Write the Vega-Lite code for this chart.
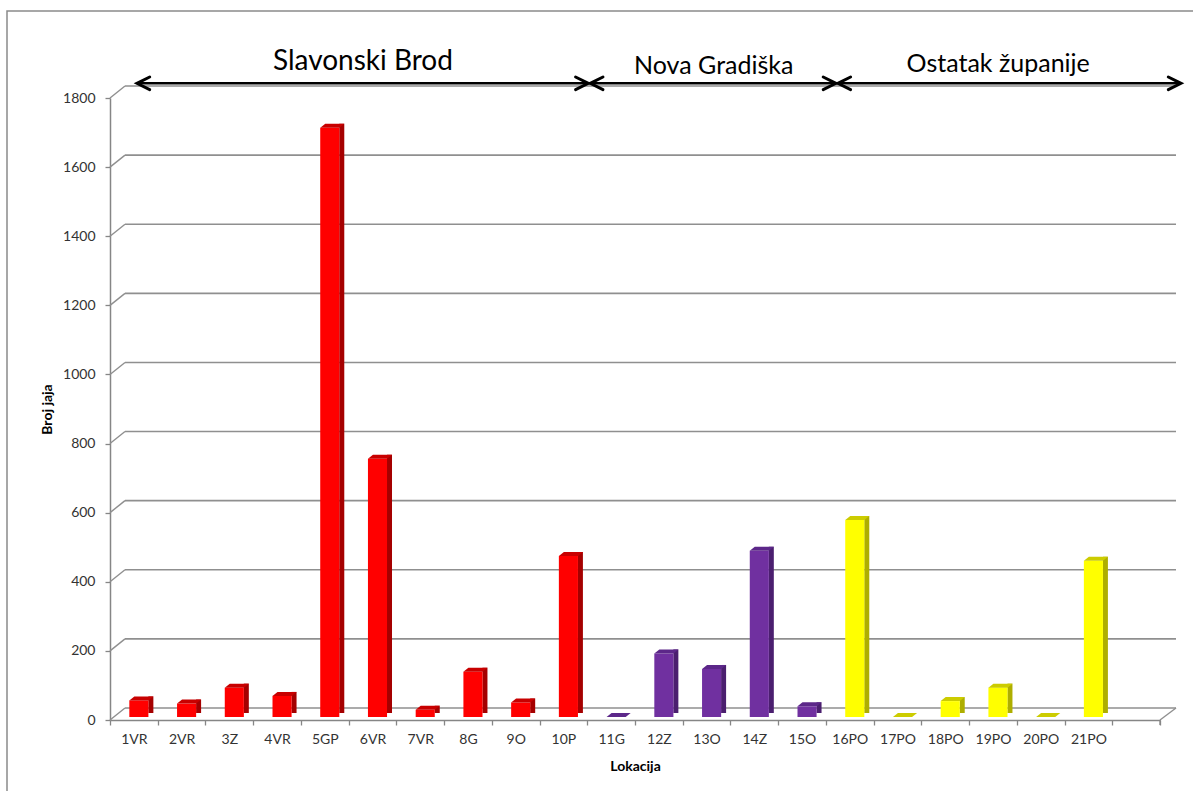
{
  "$schema": "https://vega.github.io/schema/vega-lite/v6.json",
  "autosize": "none",
  "width": 1050,
  "height": 622,
  "padding": {"left": 110, "top": 98, "right": 33, "bottom": 71},
  "background": "white",
  "config": {"view": {"stroke": null}, "font": "Lato"},
  "datasets": {
    "bars": [
      {"lokacija": "1VR", "grupa": "Slavonski Brod", "broj": 48},
      {"lokacija": "2VR", "grupa": "Slavonski Brod", "broj": 39},
      {"lokacija": "3Z", "grupa": "Slavonski Brod", "broj": 85},
      {"lokacija": "4VR", "grupa": "Slavonski Brod", "broj": 61},
      {"lokacija": "5GP", "grupa": "Slavonski Brod", "broj": 1705},
      {"lokacija": "6VR", "grupa": "Slavonski Brod", "broj": 747},
      {"lokacija": "7VR", "grupa": "Slavonski Brod", "broj": 21},
      {"lokacija": "8G", "grupa": "Slavonski Brod", "broj": 131},
      {"lokacija": "9O", "grupa": "Slavonski Brod", "broj": 42},
      {"lokacija": "10P", "grupa": "Slavonski Brod", "broj": 466},
      {"lokacija": "11G", "grupa": "Nova Gradiška", "broj": 0},
      {"lokacija": "12Z", "grupa": "Nova Gradiška", "broj": 184},
      {"lokacija": "13O", "grupa": "Nova Gradiška", "broj": 139},
      {"lokacija": "14Z", "grupa": "Nova Gradiška", "broj": 481},
      {"lokacija": "15O", "grupa": "Nova Gradiška", "broj": 31},
      {"lokacija": "16PO", "grupa": "Ostatak županije", "broj": 570},
      {"lokacija": "17PO", "grupa": "Ostatak županije", "broj": 0},
      {"lokacija": "18PO", "grupa": "Ostatak županije", "broj": 46},
      {"lokacija": "19PO", "grupa": "Ostatak županije", "broj": 85},
      {"lokacija": "20PO", "grupa": "Ostatak županije", "broj": 0},
      {"lokacija": "21PO", "grupa": "Ostatak županije", "broj": 452}
    ],
    "grid": [
      {"v": 0}, {"v": 200}, {"v": 400}, {"v": 600}, {"v": 800},
      {"v": 1000}, {"v": 1200}, {"v": 1400}, {"v": 1600}, {"v": 1800}
    ],
    "one": [{}]
  },
  "layer": [
    {
      "data": {"name": "one"},
      "mark": {"type": "rect", "fill": "transparent", "stroke": "#8a8a8a", "strokeWidth": 1.5, "clip": false, "xOffset": -103, "x2Offset": 60, "yOffset": -87, "y2Offset": 120},
      "encoding": {
        "x": {"datum": "1VR", "type": "nominal", "bandPosition": 0},
        "x2": {"datum": " ", "bandPosition": 1},
        "y": {"datum": 1800, "type": "quantitative"},
        "y2": {"datum": 0}
      }
    },
    {
      "data": {"name": "grid"},
      "mark": {"type": "rule", "color": "#8f8f8f", "strokeWidth": 1.6, "xOffset": 15, "x2Offset": 16, "yOffset": -12},
      "encoding": {
        "x": {"datum": "1VR", "type": "nominal", "bandPosition": 0},
        "x2": {"datum": " ", "bandPosition": 1},
        "y": {"field": "v", "type": "quantitative"}
      }
    },
    {
      "data": {"name": "grid"},
      "mark": {"type": "rule", "color": "#8f8f8f", "strokeWidth": 1.4, "x2Offset": 15, "y2Offset": -12},
      "encoding": {
        "x": {"datum": "1VR", "type": "nominal", "bandPosition": 0},
        "x2": {"datum": "1VR", "bandPosition": 0},
        "y": {"field": "v", "type": "quantitative"},
        "y2": {"field": "v"}
      }
    },
    {
      "data": {"name": "one"},
      "mark": {"type": "rule", "color": "#8f8f8f", "strokeWidth": 1.4, "x2Offset": 16, "y2Offset": -12},
      "encoding": {
        "x": {"datum": " ", "type": "nominal", "bandPosition": 1},
        "x2": {"datum": " ", "bandPosition": 1},
        "y": {"datum": 0, "type": "quantitative"},
        "y2": {"datum": 0}
      }
    },
    {
      "data": {"name": "one"},
      "mark": {"type": "rule", "color": "#868686", "strokeWidth": 1.3, "clip": false, "y2Offset": 5},
      "encoding": {
        "x": {"datum": " ", "type": "nominal", "bandPosition": 1},
        "y": {"datum": 0, "type": "quantitative"},
        "y2": {"datum": 0}
      }
    },
    {
      "data": {"name": "bars"},
      "mark": {"type": "bar", "width": {"band": 0.105}, "xOffset": 17, "yOffset": -7, "y2Offset": -5},
      "encoding": {
        "x": {"field": "lokacija", "type": "nominal"},
        "y": {"field": "broj", "type": "quantitative"},
        "color": {"field": "grupa", "type": "nominal", "legend": null,
          "scale": {"domain": ["Slavonski Brod", "Nova Gradiška", "Ostatak županije"], "range": ["#a50000", "#4b1f6f", "#aeae00"]}}
      }
    },
    {
      "data": {"name": "bars"},
      "mark": {"type": "bar", "width": {"band": 0.4}, "xOffset": 5, "yOffset": -3, "y2Offset": -3},
      "encoding": {
        "x": {"field": "lokacija", "type": "nominal",
          "scale": {"type": "band", "domain": ["1VR","2VR","3Z","4VR","5GP","6VR","7VR","8G","9O","10P","11G","12Z","13O","14Z","15O","16PO","17PO","18PO","19PO","20PO","21PO"," "], "paddingInner": 0, "paddingOuter": 0},
          "axis": {"title": "Lokacija", "tickBand": "extent", "labelAngle": 0, "labelAlign": "center", "domainColor": "#868686", "domainWidth": 1.5, "tickColor": "#868686", "tickWidth": 1.3, "tickSize": 5, "labelPadding": 14, "labelFontSize": 14, "labelColor": "#333333", "labelFont": "Lato", "titleFont": "Lato", "titleFontWeight": "bold", "titleFontSize": 14, "titleColor": "#000000", "titlePadding": 13}},
        "y": {"field": "broj", "type": "quantitative",
          "scale": {"domain": [0, 1800], "nice": false, "zero": true},
          "axis": {"title": "Broj jaja", "values": [0,200,400,600,800,1000,1200,1400,1600,1800], "format": "d", "grid": false, "domainColor": "#868686", "domainWidth": 1.5, "tickColor": "#868686", "tickWidth": 1.3, "tickSize": 5, "labelPadding": 10, "labelFontSize": 14, "labelColor": "#333333", "labelFont": "Lato", "titleFont": "Lato", "titleFontWeight": "bold", "titleFontSize": 14, "titleColor": "#000000", "titlePadding": 8}},
        "color": {"field": "grupa", "type": "nominal", "legend": null,
          "scale": {"domain": ["Slavonski Brod", "Nova Gradiška", "Ostatak županije"], "range": ["#ff0000", "#7030a0", "#ffff00"]}}
      }
    },
    {
      "data": {"name": "bars"},
      "mark": {"type": "point", "filled": true, "opacity": 1, "strokeWidth": 0, "size": 400, "xOffset": 5, "yOffset": -3,
        "shape": "M-0.955,0L0.955,0L1.455,-0.4L-0.455,-0.4Z"},
      "encoding": {
        "x": {"field": "lokacija", "type": "nominal"},
        "y": {"field": "broj", "type": "quantitative"},
        "color": {"field": "grupa", "type": "nominal", "legend": null,
          "scale": {"domain": ["Slavonski Brod", "Nova Gradiška", "Ostatak županije"], "range": ["#c80000", "#5c2789", "#cccc00"]}}
      }
    },
    {
      "data": {"name": "one"},
      "mark": {"type": "rule", "color": "#000000", "strokeWidth": 2.6, "clip": false, "xOffset": 27, "x2Offset": 2},
      "encoding": {
        "x": {"datum": "1VR", "type": "nominal", "bandPosition": 0},
        "x2": {"datum": "11G", "bandPosition": 0},
        "y": {"datum": 1842.5, "type": "quantitative"}
      }
    },
    {
      "data": {"name": "one"},
      "mark": {"type": "rule", "color": "#000000", "strokeWidth": 2.6, "clip": false, "xOffset": 2, "x2Offset": 11},
      "encoding": {
        "x": {"datum": "11G", "type": "nominal", "bandPosition": 0},
        "x2": {"datum": "16PO", "bandPosition": 0},
        "y": {"datum": 1842.5, "type": "quantitative"}
      }
    },
    {
      "data": {"name": "one"},
      "mark": {"type": "rule", "color": "#000000", "strokeWidth": 2.6, "clip": false, "xOffset": 11, "x2Offset": 21},
      "encoding": {
        "x": {"datum": "16PO", "type": "nominal", "bandPosition": 0},
        "x2": {"datum": " ", "bandPosition": 1},
        "y": {"datum": 1842.5, "type": "quantitative"}
      }
    },
    {
      "data": {"name": "one"},
      "mark": {"type": "point", "filled": false, "opacity": 1, "color": "#000000", "strokeWidth": 3, "strokeCap": "round", "strokeJoin": "miter", "size": 161, "clip": false, "xOffset": 27, "shape": "M2,-1L0,0L2,1"},
      "encoding": {
        "x": {"datum": "1VR", "type": "nominal", "bandPosition": 0},
        "y": {"datum": 1842.5, "type": "quantitative"}
      }
    },
    {
      "data": {"name": "one"},
      "mark": {"type": "point", "filled": false, "opacity": 1, "color": "#000000", "strokeWidth": 3, "strokeCap": "round", "strokeJoin": "miter", "size": 161, "clip": false, "xOffset": 1, "shape": "M-2,-1L0,0L-2,1"},
      "encoding": {
        "x": {"datum": "11G", "type": "nominal", "bandPosition": 0},
        "y": {"datum": 1842.5, "type": "quantitative"}
      }
    },
    {
      "data": {"name": "one"},
      "mark": {"type": "point", "filled": false, "opacity": 1, "color": "#000000", "strokeWidth": 3, "strokeCap": "round", "strokeJoin": "miter", "size": 161, "clip": false, "xOffset": 3, "shape": "M2,-1L0,0L2,1"},
      "encoding": {
        "x": {"datum": "11G", "type": "nominal", "bandPosition": 0},
        "y": {"datum": 1842.5, "type": "quantitative"}
      }
    },
    {
      "data": {"name": "one"},
      "mark": {"type": "point", "filled": false, "opacity": 1, "color": "#000000", "strokeWidth": 3, "strokeCap": "round", "strokeJoin": "miter", "size": 161, "clip": false, "xOffset": 10, "shape": "M-2,-1L0,0L-2,1"},
      "encoding": {
        "x": {"datum": "16PO", "type": "nominal", "bandPosition": 0},
        "y": {"datum": 1842.5, "type": "quantitative"}
      }
    },
    {
      "data": {"name": "one"},
      "mark": {"type": "point", "filled": false, "opacity": 1, "color": "#000000", "strokeWidth": 3, "strokeCap": "round", "strokeJoin": "miter", "size": 161, "clip": false, "xOffset": 12, "shape": "M2,-1L0,0L2,1"},
      "encoding": {
        "x": {"datum": "16PO", "type": "nominal", "bandPosition": 0},
        "y": {"datum": 1842.5, "type": "quantitative"}
      }
    },
    {
      "data": {"name": "one"},
      "mark": {"type": "point", "filled": false, "opacity": 1, "color": "#000000", "strokeWidth": 3, "strokeCap": "round", "strokeJoin": "miter", "size": 161, "clip": false, "xOffset": 21, "shape": "M-2,-1L0,0L-2,1"},
      "encoding": {
        "x": {"datum": " ", "type": "nominal", "bandPosition": 1},
        "y": {"datum": 1842.5, "type": "quantitative"}
      }
    },
    {
      "data": {"name": "one"},
      "mark": {"type": "text", "text": "Slavonski Brod", "font": "Lato", "fontSize": 28, "color": "#000000", "align": "center", "baseline": "middle", "clip": false},
      "encoding": {
        "x": {"datum": "6VR", "type": "nominal", "bandPosition": 0.3},
        "y": {"datum": 1904, "type": "quantitative"}
      }
    },
    {
      "data": {"name": "one"},
      "mark": {"type": "text", "text": "Nova Gradiška", "font": "Lato", "fontSize": 25, "color": "#000000", "align": "center", "baseline": "middle", "clip": false},
      "encoding": {
        "x": {"datum": "13O", "type": "nominal", "bandPosition": 0.65},
        "y": {"datum": 1893, "type": "quantitative"}
      }
    },
    {
      "data": {"name": "one"},
      "mark": {"type": "text", "text": "Ostatak županije", "font": "Lato", "fontSize": 25, "color": "#000000", "align": "center", "baseline": "middle", "clip": false},
      "encoding": {
        "x": {"datum": "19PO", "type": "nominal", "bandPosition": 0.61},
        "y": {"datum": 1898, "type": "quantitative"}
      }
    }
  ],
  "resolve": {"scale": {"color": "independent"}}
}
